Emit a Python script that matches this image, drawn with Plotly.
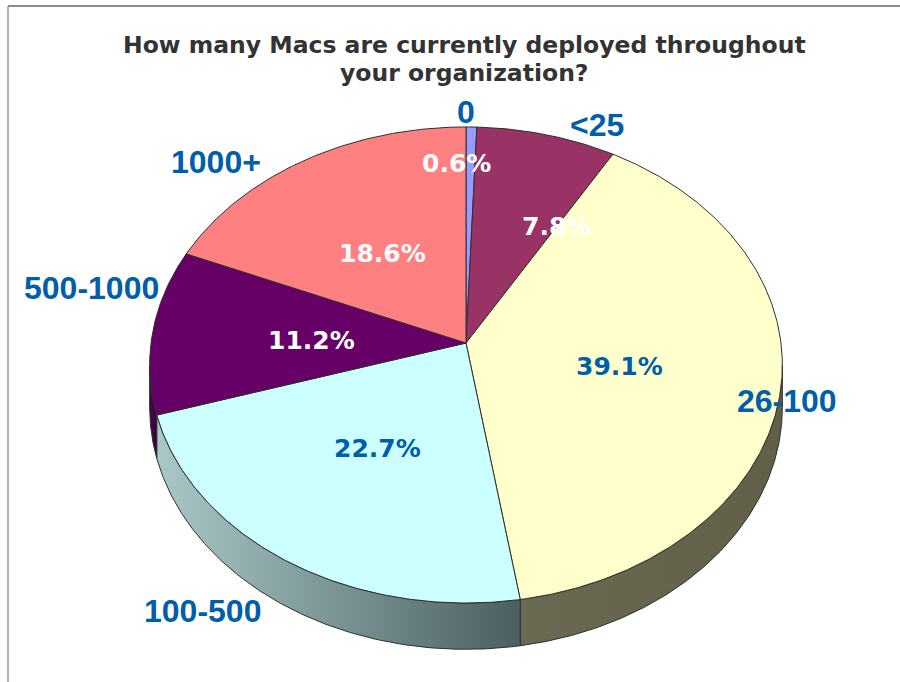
import numpy as np
import plotly.graph_objects as go

# ---------------- data ----------------
categories = ["0", "<25", "26-100", "100-500", "500-1000", "1000+"]
percent_values = [0.6, 7.8, 39.1, 22.7, 11.2, 18.6]
title_lines = ["How many Macs are currently deployed throughout", "your organization?"]

# ---------------- style ----------------
top_colors = ["#9999ff", "#993366", "#ffffcc", "#ccffff", "#660066", "#ff8080"]
wall_gradients = [
    ("#6a6ab0", "#55558f"),
    ("#6b2347", "#5a1d3c"),
    ("#6a6952", "#615f48"),
    ("#a9c8c8", "#4b5f61"),
    ("#4a004a", "#3a003a"),
    ("#a05555", "#8a4848"),
]
pct_font_colors = ["white", "white", "#005eaa", "#005eaa", "white", "white"]
LABEL_BLUE = "#005eaa"
EDGE = "#2e2e2e"

# projection of the tilted pie (pixel space)
CX, CY = 466.0, 343.0
A, B, K = 315.0, 236.0, 0.0924
DEPTH = 42.0

# label nudges (pixels) relative to computed anchor points
pct_radius = 0.5
pct_nudge = [(-12, -67), (48, -8), (-3, 2), (-2, 1), (2, 3), (0, 5)]
cat_nudge = [(-5, -15), (50, -10), (6, 14), (-83, 50), (-61, -43), (-89, 2)]


def proj(theta_deg, f=1.0):
    t = np.radians(theta_deg)
    u = f * np.sin(t)
    v = f * np.cos(t)
    den = 1.0 + K * v
    return CX + A * u / den, CY - B * v / den, den


total = float(sum(percent_values))
bounds = np.concatenate([[0.0], np.cumsum(percent_values) / total * 360.0])

fig = go.Figure()

# visible front wall range
front_lo = np.degrees(np.arccos(-K))
front_hi = 360.0 - front_lo

# walls
for i, cat in enumerate(categories):
    a0, a1 = bounds[i], bounds[i + 1]
    lo, hi = max(a0, front_lo), min(a1, front_hi)
    if hi <= lo:
        continue
    th = np.linspace(lo, hi, max(int((hi - lo) * 2), 2))
    xt, yt, den = proj(th)
    yb = yt + DEPTH / den
    xs = np.concatenate([xt, xt[::-1], xt[:1]])
    ys = np.concatenate([yt, yb[::-1], yt[:1]])
    c0, c1 = wall_gradients[i]
    fig.add_trace(go.Scatter(
        x=xs, y=ys, mode="lines", fill="toself",
        fillgradient=dict(type="horizontal", colorscale=[[0, c0], [1, c1]]),
        line=dict(color=EDGE, width=1), hoverinfo="skip", showlegend=False))

# top faces
for i, cat in enumerate(categories):
    a0, a1 = bounds[i], bounds[i + 1]
    th = np.linspace(a0, a1, max(int((a1 - a0) * 2), 2))
    xa, ya, _ = proj(th)
    xs = np.concatenate([[CX], xa, [CX]])
    ys = np.concatenate([[CY], ya, [CY]])
    fig.add_trace(go.Scatter(
        x=xs, y=ys, mode="lines", fill="toself", fillcolor=top_colors[i],
        line=dict(color=EDGE, width=1), hoverinfo="skip", showlegend=False))

annotations = []
for i, cat in enumerate(categories):
    mid = (bounds[i] + bounds[i + 1]) / 2.0
    px, py, _ = proj(mid, pct_radius)
    annotations.append(dict(
        x=px + pct_nudge[i][0], y=py + pct_nudge[i][1], xref="x", yref="y",
        text=f"{percent_values[i]:.1f}%", showarrow=False,
        xanchor="center", yanchor="middle",
        font=dict(family="DejaVu Sans", size=25, color=pct_font_colors[i], weight="bold")))
    ox, oy, _ = proj(mid, 1.0)
    annotations.append(dict(
        x=ox + cat_nudge[i][0], y=oy + cat_nudge[i][1], xref="x", yref="y",
        text=cat.replace("<", "&lt;"), showarrow=False,
        xanchor="center", yanchor="middle",
        font=dict(family="Liberation Sans", size=32, color=LABEL_BLUE, weight="bold")))

title_y = [45, 73]
for line, ty in zip(title_lines, title_y):
    annotations.append(dict(
        x=464, y=ty, xref="x", yref="y", text=line, showarrow=False,
        xanchor="center", yanchor="middle",
        font=dict(family="DejaVu Sans", size=23.5, color="#333333", weight="bold")))

fig.update_layout(
    width=900, height=682,
    margin=dict(l=0, r=0, t=0, b=0),
    paper_bgcolor="white", plot_bgcolor="white",
    xaxis=dict(range=[0, 900], visible=False, fixedrange=True),
    yaxis=dict(range=[682, 0], visible=False, fixedrange=True),
    showlegend=False,
    annotations=annotations,
    shapes=[
        dict(type="line", xref="x", yref="y", x0=8, y0=6, x1=900, y1=6,
             line=dict(color="#8c8c8c", width=2)),
        dict(type="line", xref="x", yref="y", x0=8, y0=6, x1=8, y1=682,
             line=dict(color="#999999", width=1.5)),
    ],
)

fig.write_html(
    "out.html",
    config={"displayModeBar": False},
    post_script="document.body.style.margin='0';document.body.style.overflow='hidden';",
)
